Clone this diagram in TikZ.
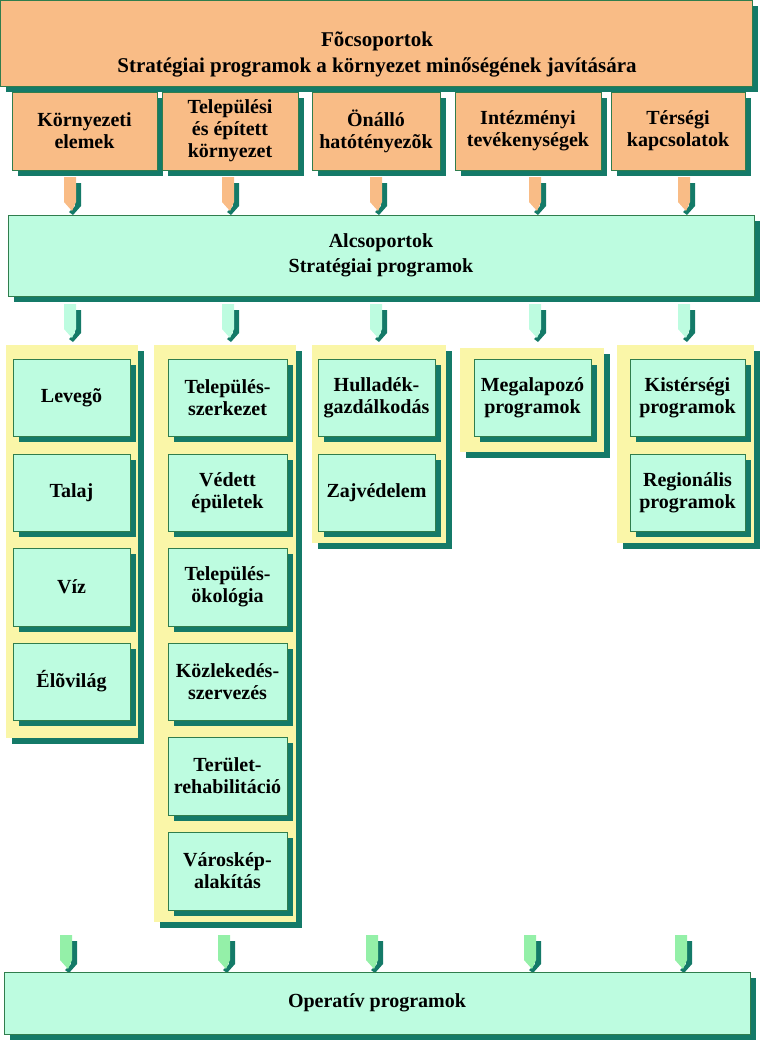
\documentclass[tikz,border=0pt]{standalone}
\usepackage{fontspec}
\setmainfont{Liberation Serif}
\begin{document}
\begin{tikzpicture}[x=1pt,y=-1pt,
  font=\bfseries\fontsize{20}{22}\selectfont,
  shadowc/.style={fill=sh},
  ob/.style={fill=org,draw=grn!80!black,line width=0.8pt},
  cb/.style={fill=cyn,draw=grn!80!black,line width=0.8pt},
  yb/.style={fill=yel},
  lbl/.style={align=center,inner sep=0pt},
]
\definecolor{org}{HTML}{F9BC86}
\definecolor{cyn}{HTML}{BDFCE0}
\definecolor{yel}{HTML}{FAF6A8}
\definecolor{sh}{HTML}{147A68}
\definecolor{grn}{HTML}{3C9C60}
\definecolor{lg}{HTML}{94F0A8}
\useasboundingbox (0,0) rectangle (760,1049);
\newcommand{\bx}[6]{% style, x1,y1,x2,y2, name
  \fill[shadowc] (#2+6,#3+6) rectangle (#4+6,#5+6);
  \path[#1] (#2,#3) rectangle (#4,#5);
  \coordinate (#6) at ({(#2+#4)/2},{(#3+#5)/2});}
\newcommand{\arr}[4]{% x, y1, y2, color
  \fill[sh] (#1+3,#2+6) -- (#1+9,#2+6) -- (#1+9,#3-8) -- (#1+1,#3+1) -- (#1-3,#3-2) -- (#1+3,#3-8) -- cycle;
  \fill[#4] (#1-8,#2) -- (#1+4,#2) -- (#1+4,#3-12) -- (#1,#3-3) -- (#1-8,#3-12) -- cycle;}
% top
\bx{ob}{0}{0}{752}{86}{top}
\node[lbl,font=\bfseries\fontsize{21}{26}\selectfont] at (377,55) {Fõcsoportok\\Stratégiai programok a környezet minőségének javítására};
\bx{ob}{12}{92}{157}{170}{t1}
\bx{ob}{162}{92}{298}{170}{t2}
\bx{ob}{312}{92}{440}{170}{t3}
\bx{ob}{455}{92}{601}{170}{t4}
\bx{ob}{611}{92}{745}{170}{t5}
\node[lbl] at (t1) {Környezeti\\elemek};
\node[lbl] at (t2) {Települési\\és épített\\környezet};
\node[lbl] at (t3) {Önálló\\hatótényezõk};
\node[lbl] at (t4) {Intézményi\\tevékenységek};
\node[lbl] at (t5) {Térségi\\kapcsolatok};
\foreach \x in {72,230,378,537,686}{\arr{\x}{177}{214}{org}}
\bx{cb}{8}{215}{754}{296}{alc}
\node[lbl,font=\bfseries\fontsize{20}{25}\selectfont] at (alc) {Alcsoportok\\Stratégiai programok};
\foreach \x in {72,230,378,537,686}{\arr{\x}{304}{341}{cyn}}
% yellow panels
\bx{yb}{6}{345}{138}{738}{p1}
\bx{yb}{154}{345}{296}{922}{p2}
\bx{yb}{312}{345}{446}{543}{p3}
\bx{yb}{460}{348}{604}{452}{p4}
\bx{yb}{617}{345}{754}{543}{p5}
\bx{cb}{13}{359}{130}{436}{a1}\node[lbl] at (a1) {Levegõ};
\bx{cb}{13}{454}{130}{531}{a2}\node[lbl] at (a2) {Talaj};
\bx{cb}{13}{548}{130}{626}{a3}\node[lbl] at (a3) {Víz};
\bx{cb}{13}{643}{130}{720}{a4}\node[lbl] at (a4) {Élõvilág};
\bx{cb}{168}{359}{287}{436}{b1}\node[lbl] at (b1) {Település-\\szerkezet};
\bx{cb}{168}{454}{287}{531}{b2}\node[lbl] at (b2) {Védett\\épületek};
\bx{cb}{168}{548}{287}{626}{b3}\node[lbl] at (b3) {Település-\\ökológia};
\bx{cb}{168}{643}{287}{720}{b4}\node[lbl] at (b4) {Közlekedés-\\szervezés};
\bx{cb}{168}{737}{287}{815}{b5}\node[lbl] at (b5) {Terület-\\rehabilitáció};
\bx{cb}{168}{832}{287}{910}{b6}\node[lbl] at (b6) {Városkép-\\alakítás};
\bx{cb}{318}{359}{435}{436}{c1}\node[lbl] at (c1) {Hulladék-\\gazdálkodás};
\bx{cb}{318}{454}{435}{531}{c2}\node[lbl] at (c2) {Zajvédelem};
\bx{cb}{474}{359}{591}{436}{d1}\node[lbl] at (d1) {Megalapozó\\programok};
\bx{cb}{630}{359}{745}{436}{e1}\node[lbl] at (e1) {Kistérségi\\programok};
\bx{cb}{630}{454}{745}{531}{e2}\node[lbl] at (e2) {Regionális\\programok};
\foreach \x in {68,226,374,532,683}{\arr{\x}{935}{972}{lg}}
\bx{cb}{4}{972}{750}{1034}{op}
\node[lbl] at (op) {Operatív programok};
\end{tikzpicture}
\end{document}
